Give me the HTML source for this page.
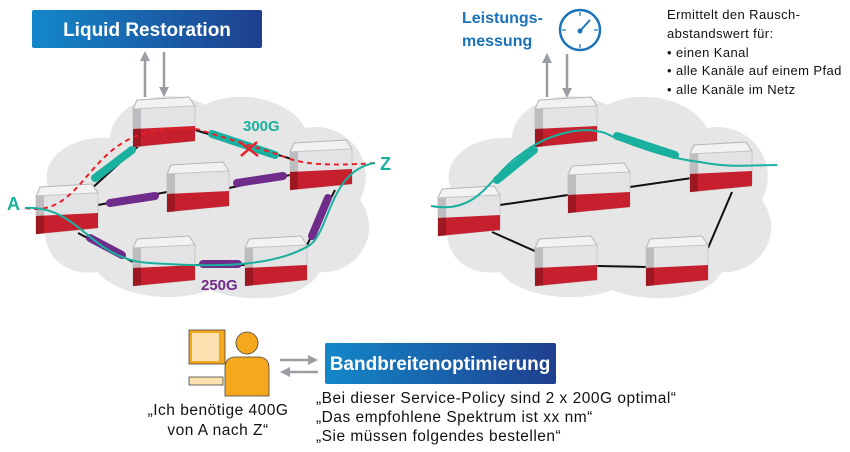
<!DOCTYPE html>
<html><head><meta charset="utf-8"><style>
html,body{margin:0;padding:0;background:#fff;width:850px;height:452px;overflow:hidden}
svg{display:block}
text{font-family:"Liberation Sans",sans-serif}
</style></head><body>
<svg width="850" height="452" viewBox="0 0 850 452" xmlns="http://www.w3.org/2000/svg">
<defs>
<linearGradient id="bg" x1="0" x2="1"><stop offset="0" stop-color="#1387c9"/><stop offset="1" stop-color="#1f3f8e"/></linearGradient>
<g id="cube">
<polygon points="4,3 56,0 62,9 0,12" fill="#f2f2f2" stroke="#b5b5b5" stroke-width="1"/>
<polygon points="0,12 62,9 62,44 0,50" fill="#e3e3e5" stroke="#c4c4c6" stroke-width="0.8"/>
<polygon points="0,12 8,11.6 8,49.2 0,50" fill="#bdbdc0"/>
<polygon points="0,32 62,29 62,44 0,50" fill="#c6202e"/>
<polygon points="0,32 8,31.6 8,49.2 0,50" fill="#9e1822"/>
</g>
<marker id="ah" markerWidth="4" markerHeight="4" refX="2" refY="2" orient="auto"><path d="M0,0 L4,2 L0,4z" fill="#9a9ea3"/></marker>
</defs>

<!-- LEFT -->
<path d="M55,200 C30,165 65,135 110,138 C112,100 170,85 205,105 C235,88 290,98 305,128 C345,120 380,160 360,200 C385,235 355,275 320,272 C300,305 240,302 210,290 C170,305 115,295 98,272 C55,278 30,240 55,200Z" fill="#e6e6e7"/>
<rect x="32" y="10" width="230" height="38" rx="2" fill="url(#bg)"/>
<text x="147" y="36" text-anchor="middle" font-size="19" font-weight="bold" fill="#fff">Liquid Restoration</text>
<line x1="145" y1="97" x2="145" y2="56" stroke="#9a9ea3" stroke-width="2.5" marker-end="url(#ah)"/>
<line x1="164" y1="52" x2="164" y2="92" stroke="#9a9ea3" stroke-width="2.5" marker-end="url(#ah)"/>
<g stroke="#111" stroke-width="2">
<line x1="90" y1="190" x2="145" y2="140"/><line x1="195" y1="130" x2="295" y2="160"/>
<line x1="98" y1="205" x2="167" y2="192"/><line x1="229" y1="188" x2="290" y2="175"/>
<line x1="78" y1="233" x2="133" y2="262"/><line x1="195" y1="265" x2="245" y2="265"/>
<line x1="307" y1="245" x2="335" y2="190"/>
</g>
<g stroke-linecap="round">
<line x1="95" y1="178" x2="132" y2="150" stroke="#1ab09f" stroke-width="8"/>
<line x1="212" y1="134" x2="275" y2="155" stroke="#1ab09f" stroke-width="8"/>
<line x1="110" y1="203" x2="155" y2="196" stroke="#6f2c8a" stroke-width="8"/>
<line x1="237" y1="183" x2="283" y2="176" stroke="#6f2c8a" stroke-width="8"/>
<line x1="90" y1="238" x2="122" y2="255" stroke="#6f2c8a" stroke-width="8"/>
<line x1="203" y1="264" x2="238" y2="264" stroke="#6f2c8a" stroke-width="8"/>
<line x1="328" y1="198" x2="312" y2="236" stroke="#6f2c8a" stroke-width="8"/>
</g>
<use href="#cube" x="133" y="97"/><use href="#cube" x="290" y="140"/><use href="#cube" x="167" y="162"/>
<use href="#cube" x="36" y="184"/><use href="#cube" x="133" y="236"/><use href="#cube" x="245" y="236"/>
<path d="M25,208 C80,218 85,150 145,133 C170,126 195,128 200,130 L280,155 C300,165 330,166 375,163" fill="none" stroke="#e8202a" stroke-width="2" stroke-dasharray="5,4"/>
<path d="M240,142 L258,156 M257,142 L241,156" stroke="#e8202a" stroke-width="2.5"/>
<path d="M25,208 C80,205 90,260 150,263 C200,266 270,270 310,245 C330,230 330,170 375,163" fill="none" stroke="#1ab09f" stroke-width="2"/>
<text x="243" y="131" font-size="15" font-weight="bold" fill="#1ab09f">300G</text>
<text x="201" y="290" font-size="15" font-weight="bold" fill="#6f2c8a">250G</text>
<text x="7" y="210" font-size="18" font-weight="bold" fill="#1ab09f">A</text>
<text x="380" y="170" font-size="18" font-weight="bold" fill="#1ab09f">Z</text>

<!-- RIGHT -->
<path d="M457,200 C432,165 467,135 512,138 C514,100 572,85 607,105 C637,88 692,98 707,128 C747,120 782,160 762,200 C787,235 757,275 722,272 C702,305 642,302 612,290 C572,305 517,295 500,272 C457,278 432,240 457,200Z" fill="#e6e6e7"/>
<text x="462" y="23" font-size="16" font-weight="bold" fill="#1a73b8">Leistungs-</text>
<text x="462" y="46" font-size="16" font-weight="bold" fill="#1a73b8">messung</text>
<circle cx="580" cy="30" r="20" fill="#fff" stroke="#1a73b8" stroke-width="2.5"/>
<g stroke="#1a73b8" stroke-width="1.2"><line x1="580" y1="12" x2="580" y2="16"/><line x1="598" y1="30" x2="594" y2="30"/><line x1="580" y1="48" x2="580" y2="44"/><line x1="562" y1="30" x2="566" y2="30"/></g>
<line x1="580" y1="31" x2="590" y2="20" stroke="#1a73b8" stroke-width="2"/><circle cx="580" cy="31" r="2.5" fill="#1a73b8"/>
<line x1="547" y1="97" x2="547" y2="58" stroke="#9a9ea3" stroke-width="2.5" marker-end="url(#ah)"/>
<line x1="567" y1="54" x2="567" y2="93" stroke="#9a9ea3" stroke-width="2.5" marker-end="url(#ah)"/>
<g font-size="13" fill="#111" letter-spacing="0.4">
<text x="667" y="19">Ermittelt den Rausch-</text>
<text x="667" y="38">abstandswert für:</text>
<text x="667" y="57">• einen Kanal</text>
<text x="667" y="75">• alle Kanäle auf einem Pfad</text>
<text x="667" y="94">• alle Kanäle im Netz</text>
</g>
<g stroke="#111" stroke-width="2">
<line x1="500" y1="205" x2="568" y2="195"/><line x1="630" y1="187" x2="692" y2="178"/>
<line x1="492" y1="232" x2="537" y2="252"/><line x1="597" y1="266" x2="646" y2="267"/>
<line x1="708" y1="248" x2="732" y2="192"/>
</g>
<g stroke-linecap="round">
<line x1="497" y1="180" x2="534" y2="150" stroke="#1ab09f" stroke-width="8"/>
<line x1="617" y1="136" x2="675" y2="155" stroke="#1ab09f" stroke-width="8"/>
</g>
<use href="#cube" x="535" y="97"/><use href="#cube" x="690" y="142"/><use href="#cube" x="568" y="163"/>
<use href="#cube" x="438" y="186"/><use href="#cube" x="535" y="236"/><use href="#cube" x="646" y="236"/>
<path d="M431,206 C480,215 490,175 520,155 C545,135 580,125 605,133 C640,150 680,160 700,162 C730,168 750,165 777,165" fill="none" stroke="#1ab09f" stroke-width="2"/>

<!-- BOTTOM -->
<rect x="189" y="330" width="36" height="34" fill="#f5a81c" stroke="#444" stroke-width="0.8"/>
<rect x="192" y="333" width="27" height="28" fill="#fde0b0"/>
<rect x="189" y="377" width="34" height="8" fill="#fde0b0" stroke="#444" stroke-width="0.8"/>
<circle cx="247" cy="343" r="11" fill="#f5a81c" stroke="#444" stroke-width="0.8"/>
<path d="M225,396 L225,368 Q225,357 236,357 L258,357 Q269,357 269,368 L269,396Z" fill="#f5a81c" stroke="#444" stroke-width="0.8"/>
<line x1="280" y1="360" x2="313" y2="360" stroke="#9a9ea3" stroke-width="2.5" marker-end="url(#ah)"/>
<line x1="318" y1="372" x2="285" y2="372" stroke="#9a9ea3" stroke-width="2.5" marker-end="url(#ah)"/>
<rect x="325" y="343" width="231" height="41" rx="2" fill="url(#bg)"/>
<text x="440" y="370" text-anchor="middle" font-size="19" font-weight="bold" fill="#fff">Bandbreitenoptimierung</text>
<g font-size="15.5" fill="#111" letter-spacing="0.5">
<text x="218" y="415" text-anchor="middle">„Ich benötige 400G</text>
<text x="218" y="435" text-anchor="middle">von A nach Z“</text>
<text x="316" y="403">„Bei dieser Service-Policy sind 2 x 200G optimal“</text>
<text x="316" y="422">„Das empfohlene Spektrum ist xx nm“</text>
<text x="316" y="441">„Sie müssen folgendes bestellen“</text>
</g>
</svg>
</body></html>
